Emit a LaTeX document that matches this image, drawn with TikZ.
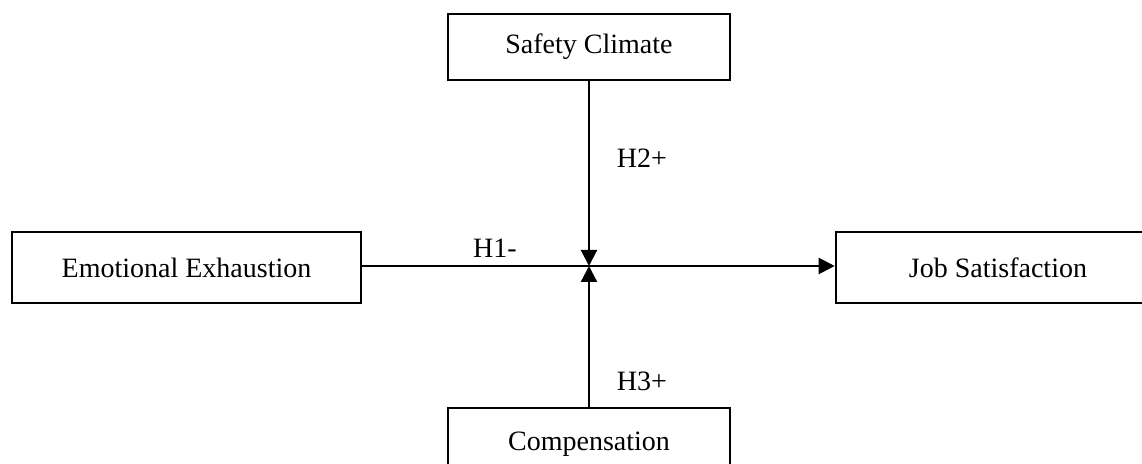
\documentclass[tikz,border=0pt]{standalone}
\usepackage{fontspec}
\setmainfont{Liberation Serif}
\usepackage{tikz}
\usetikzlibrary{arrows.meta, positioning}

\begin{document}
\begin{tikzpicture}[x=0.5pt, y=-0.5pt,
    box/.style={draw, line width=1.3pt, inner sep=0pt, font=\fontsize{14}{16}\selectfont},
    lbl/.style={font=\fontsize{14}{16}\selectfont, inner sep=0pt},
    link/.style={line width=1.1pt, -{Triangle[length=8pt, width=8pt]}}]
    % page frame (1142 x 464 px)
    \clip (0,0) rectangle (1142,464);

    % Constructs
    \node[box, minimum width=174.5pt, minimum height=35.5pt] (exh) at (186.5,267.5) {Emotional Exhaustion};
    \node[box, minimum width=162pt, minimum height=35.5pt] (job) at (998,267.5) {Job Satisfaction};
    \node[box, minimum width=141pt, minimum height=33pt] (safe) at (589,47) {Safety Climate};
    \node[box, minimum width=141pt, minimum height=36pt] (comp) at (589,444) {Compensation};

    % Moderation point
    \coordinate (mod) at (589,266);

    % Paths
    \draw[link] (exh.east |- mod) -- (job.west |- mod);
    \draw[link] (safe.south) -- (mod);
    \draw[link] (comp.north) -- (mod);

    % Hypotheses
    \node[lbl] (h1) at (495,248) {H1-};
    \node[lbl] (h2) at (642,158) {H2+};
    \node[lbl] (h3) at (642,381) {H3+};
\end{tikzpicture}
\end{document}
